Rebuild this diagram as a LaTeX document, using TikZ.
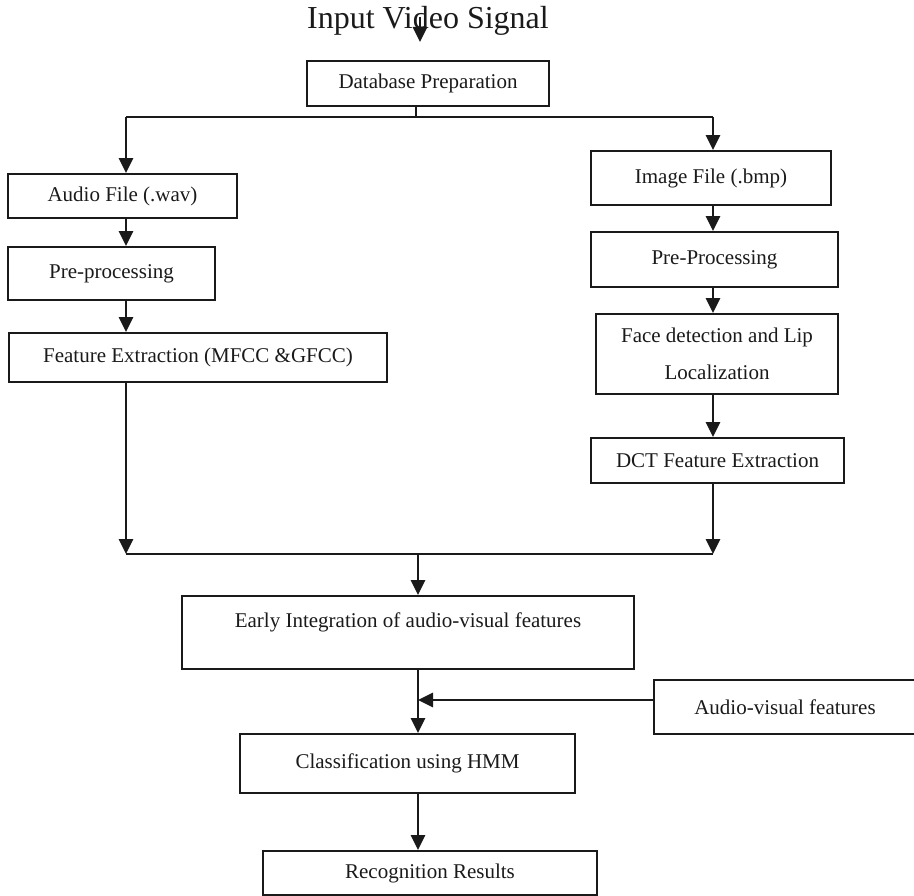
\documentclass[tikz,border=0pt]{standalone}
\usepackage{fontspec}
\setmainfont{Liberation Serif}
\usetikzlibrary{arrows.meta}
\definecolor{ink}{HTML}{1A1A1A}
\tikzset{
  box/.style={draw=ink, line width=1.7pt, rectangle, inner sep=0pt, align=center,
              font=\fontsize{21}{25}\selectfont, text=ink},
  flow/.style={draw=ink, line width=2.8pt, -{Triangle[length=15pt,width=14pt]}},
  bus/.style={draw=ink, line width=1.8pt},
}
\begin{document}
\begin{tikzpicture}[x=1pt,y=-1pt]
\clip (0,0) rectangle (914,896);

% title and entry arrow
\node[font=\fontsize{32}{38}\selectfont, text=ink, anchor=base, inner sep=0pt] (title) at (428,29) {Input Video Signal};
\coordinate (tin) at (420,17);
\coordinate (tout) at (420,42);
\draw[flow] (tin) -- (tout);

% boxes
\node[box, minimum width=242pt, minimum height=45pt] (db) at (428,83.5) {Database Preparation};

\node[box, minimum width=229pt, minimum height=44pt] (audio) at (122.5,196) {Audio File (.wav)};
\node[box, minimum width=207pt, minimum height=53pt] (apre) at (111.5,273.5) {Pre-processing};
\node[box, minimum width=378pt, minimum height=49pt] (afeat) at (198,357.5) {Feature Extraction (MFCC \&GFCC)};

\node[box, minimum width=240pt, minimum height=54pt] (img) at (711,178) {Image File (.bmp)};
\node[box, minimum width=247pt, minimum height=55pt] (ipre) at (714.5,259.5) {Pre-Processing};
\node[box, minimum width=242pt, minimum height=80pt, font=\fontsize{21}{37}\selectfont] (face) at (717,354) {Face detection and Lip\\Localization};
\node[box, minimum width=253pt, minimum height=45pt] (dct) at (717.5,460.5) {DCT Feature Extraction};

\node[box, minimum width=452pt, minimum height=73pt] (early) at (408,632.5) {Early Integration of audio-visual features\\\mbox{}};
\node[box, minimum width=262pt, minimum height=54pt] (av) at (785,707) {Audio-visual features};
\node[box, minimum width=335pt, minimum height=59pt] (cls) at (407.5,763.5) {\raisebox{4pt}{Classification using HMM}};
\node[box, minimum width=334pt, minimum height=44pt] (rec) at (430,873) {Recognition Results};

% split below the database box
\coordinate (split) at (416,117);
\coordinate (aL) at (126,117);
\coordinate (aR) at (713,117);
\draw[bus] (db.south -| split) -- (split);
\draw[bus] (aL) -- (aR);
\draw[flow] (aL) -- (aL |- audio.north);
\draw[flow] (aR) -- (aR |- img.north);

% audio branch
\draw[flow] (aL |- audio.south) -- (aL |- apre.north);
\draw[flow] (aL |- apre.south) -- (aL |- afeat.north);

% visual branch
\draw[flow] (aR |- img.south) -- (aR |- ipre.north);
\draw[flow] (aR |- ipre.south) -- (aR |- face.north);
\draw[flow] (aR |- face.south) -- (aR |- dct.north);

% merge
\coordinate (mL) at (126,554);
\coordinate (mR) at (713,554);
\coordinate (mC) at (418,554);
\draw[flow] (aL |- afeat.south) -- (mL);
\draw[flow] (aR |- dct.south) -- (mR);
\draw[bus] (mL) -- (mR);
\draw[flow] (mC) -- (mC |- early.north);

% classification and results
\coordinate (avin) at ([yshift=7pt]av.west);
\draw[flow] (mC |- early.south) -- (mC |- cls.north);
\draw[flow] (avin) -- (mC |- avin);
\draw[flow] (mC |- cls.south) -- (mC |- rec.north);
\end{tikzpicture}
\end{document}
